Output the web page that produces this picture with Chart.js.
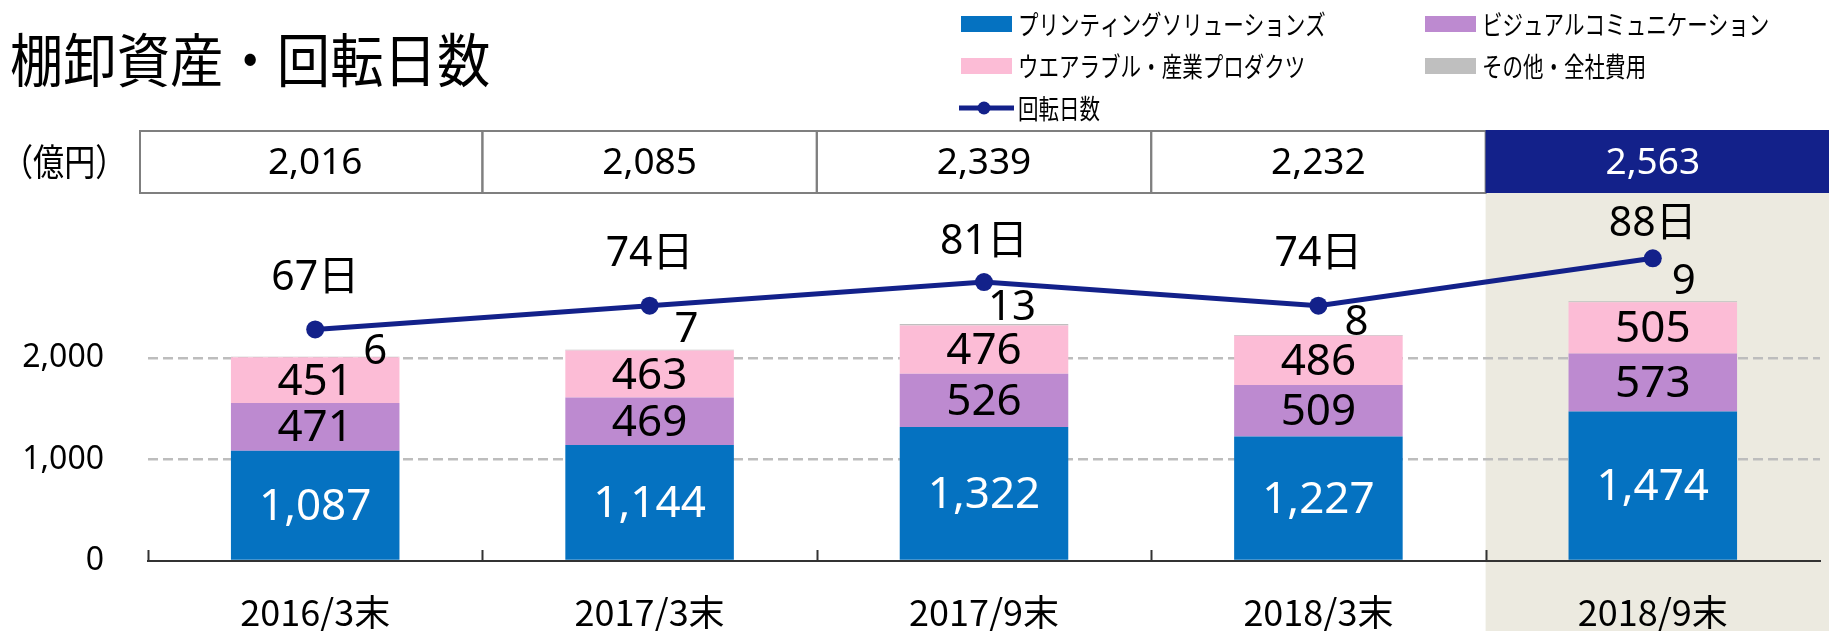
<!DOCTYPE html>
<html>
<head>
<meta charset="utf-8">
<script src="https://cdn.jsdelivr.net/npm/chart.js@4"></script>
<style>
  body { margin: 0; background: #fff; }
  #wrap { width: 1829px; height: 631px; }
</style>
</head>
<body>
<div id="wrap"><canvas id="myChart" width="1829" height="631"></canvas></div>
<script>
// values
const categories = ['2016/3末', '2017/3末', '2017/9末', '2018/3末', '2018/9末'];
const printing = [1087, 1144, 1322, 1227, 1474];
const visual = [471, 469, 526, 509, 573];
const wearable = [451, 463, 476, 486, 505];
const other = [6, 7, 13, 8, 9];
const totals = [2016, 2085, 2339, 2232, 2563];
const turnoverDays = [67, 74, 81, 74, 88];
const yTicks = [0, 1000, 2000];
const seriesNames = ['プリンティングソリューションズ', 'ビジュアルコミュニケーション',
    'ウエアラブル・産業プロダクツ', 'その他・全社費用', '回転日数'];

const colors = ['#0572c1', '#bd8ad0', '#fcbcd6', '#bfbfbf'];
const navy = '#13218a';
const NUM = '"Noto Sans", "Noto Sans CJK JP", sans-serif';
const JP = '"Noto Sans CJK JP", "Noto Sans", sans-serif';

// label nudges for the small "その他" numbers and the day labels
const otherDx = [60, 37, 28, 38, 31];
const otherDy = [-5, -20, -16, -12, -19];
const dayDy = [-51, -51, -40, -51, -34];

function fmt(v) { return v.toLocaleString('en-US'); }

function boundary(x, i) {
    // left edge of category i
    const w = (x.right - x.left) / categories.length;
    return x.getPixelForValue(i) - w / 2;
}

// left aligned text squeezed horizontally (the slide font is a narrow one)
function narrowText(ctx, text, x, y, sx) {
    ctx.save();
    ctx.translate(x, y);
    ctx.scale(sx, 1);
    ctx.textAlign = 'left';
    ctx.fillText(text, 0, 0);
    ctx.restore();
}

const bgPlugin = {
    id: 'bg',
    beforeDraw(chart) {
        const ctx = chart.ctx, x = chart.scales.x;
        ctx.save();
        ctx.fillStyle = '#eceae0';
        const l = boundary(x, 4);
        ctx.fillRect(l, chart.chartArea.top, chart.width - l, chart.height - chart.chartArea.top);
        ctx.restore();
    }
};

const labelPlugin = {
    id: 'labels',
    afterDatasetsDraw(chart) {
        const ctx = chart.ctx;
        ctx.save();
        ctx.textAlign = 'center';
        ctx.textBaseline = 'middle';
        // segment values
        for (let d = 0; d < 3; d++) {
            const meta = chart.getDatasetMeta(d);
            meta.data.forEach((bar, i) => {
                ctx.font = '44px ' + NUM;
                ctx.fillStyle = d === 0 ? '#fff' : '#000';
                ctx.fillText(fmt(chart.data.datasets[d].data[i]), bar.x, (bar.y + bar.base) / 2 + 2);
            });
        }
        // other
        const om = chart.getDatasetMeta(3);
        om.data.forEach((bar, i) => {
            ctx.font = '42px ' + NUM;
            ctx.fillStyle = '#000';
            ctx.fillText(fmt(other[i]), bar.x + otherDx[i], bar.y + otherDy[i]);
        });
        // days
        const lm = chart.getDatasetMeta(4);
        lm.data.forEach((pt, i) => {
            ctx.font = '41px ' + NUM;
            ctx.fillStyle = '#000';
            ctx.fillText(turnoverDays[i] + '日', pt.x, pt.y + dayDy[i]);
        });
        // small ticks at category edges
        const x = chart.scales.x, b = chart.chartArea.bottom;
        ctx.strokeStyle = '#333';
        ctx.lineWidth = 2;
        for (let i = 0; i < categories.length; i++) {
            const px = Math.round(boundary(x, i)) + 0.5;
            ctx.beginPath();
            ctx.moveTo(px, b - 11);
            ctx.lineTo(px, b);
            ctx.stroke();
        }
        ctx.restore();
    },
    afterDraw(chart) {
        const ctx = chart.ctx, x = chart.scales.x;
        ctx.save();
        // title
        ctx.fillStyle = '#000';
        ctx.textBaseline = 'middle';
        ctx.font = '58px ' + JP;
        narrowText(ctx, '棚卸資産・回転日数', 10, 60, 0.92);
        // unit
        ctx.font = '37px ' + JP;
        narrowText(ctx, '（億円）', 2, 162, 0.84);
        // totals row
        const top = 131, bot = 193;
        for (let i = 0; i < categories.length; i++) {
            const l = i === 0 ? 140 : boundary(x, i);
            const r = i === categories.length - 1 ? chart.width : boundary(x, i + 1);
            if (i === categories.length - 1) {
                ctx.fillStyle = navy;
                ctx.fillRect(l, top - 1, r - l, bot - top + 1);
            } else {
                ctx.strokeStyle = '#7f7f7f';
                ctx.lineWidth = 2;
                ctx.strokeRect(l, top, r - l, bot - top);
            }
            ctx.fillStyle = i === categories.length - 1 ? '#fff' : '#000';
            ctx.textAlign = 'center';
            ctx.font = '37px ' + NUM;
            ctx.fillText(fmt(totals[i]), x.getPixelForValue(i), 163);
        }
        // legend
        ctx.font = '27px ' + JP;
        const items = [
            [961, 24, 0], [1425, 24, 1], [961, 66, 2], [1425, 66, 3]
        ];
        items.forEach(([lx, ly, k]) => {
            ctx.fillStyle = colors[k];
            ctx.fillRect(lx, ly - 8, 51, 16);
            ctx.fillStyle = '#000';
            narrowText(ctx, seriesNames[k], lx + 57, ly + 1, 0.76);
        });
        ctx.strokeStyle = navy;
        ctx.lineWidth = 5;
        ctx.beginPath();
        ctx.moveTo(959, 108);
        ctx.lineTo(1014, 108);
        ctx.stroke();
        ctx.fillStyle = navy;
        ctx.beginPath();
        ctx.arc(984, 108, 6.5, 0, Math.PI * 2);
        ctx.fill();
        ctx.fillStyle = '#000';
        narrowText(ctx, seriesNames[4], 1018, 109, 0.76);
        ctx.restore();
    }
};

const ctx = document.getElementById('myChart').getContext('2d');
const barSet = (data, k) => ({
    type: 'bar',
    label: seriesNames[k],
    data: data,
    backgroundColor: colors[k],
    borderWidth: 0,
    barPercentage: 1,
    categoryPercentage: 0.504,
    yAxisID: 'y',
    order: 1
});

const myChart = new Chart(ctx, {
    type: 'bar',
    data: {
        labels: categories,
        datasets: [
            barSet(printing, 0),
            barSet(visual, 1),
            barSet(wearable, 2),
            barSet(other, 3),
            {
                type: 'line',
                label: seriesNames[4],
                data: turnoverDays,
                borderColor: navy,
                backgroundColor: navy,
                borderWidth: 5,
                pointRadius: 9,
                pointBorderWidth: 0,
                pointBackgroundColor: navy,
                fill: false,
                tension: 0,
                yAxisID: 'y1',
                order: 0
            }
        ]
    },
    options: {
        responsive: false,
        devicePixelRatio: 1,
        animation: false,
        layout: { padding: { top: 193, right: 0, left: 0, bottom: 0 } },
        plugins: {
            legend: { display: false },
            tooltip: { enabled: false },
            title: { display: false }
        },
        scales: {
            x: {
                stacked: true,
                grid: { display: false, drawTicks: false },
                border: { display: true, color: '#333', width: 2 },
                ticks: {
                    color: '#000',
                    font: { size: 36, family: JP },
                    padding: 30
                },
                afterFit: (s) => { s.height = 70; }
            },
            y: {
                stacked: true,
                min: 0,
                max: 3630,
                border: { display: false, dash: [10, 5] },
                grid: {
                    drawTicks: false,
                    lineWidth: 2.5,
                    color: (c) => (c.tick && c.tick.value > 0) ? '#bdbdbd' : 'rgba(0,0,0,0)'
                },
                ticks: {
                    padding: 44,
                    color: '#000',
                    font: { size: 32, family: NUM },
                    callback: (v) => fmt(v)
                },
                afterBuildTicks: (s) => { s.ticks = yTicks.map(v => ({ value: v })); },
                afterFit: (s) => { s.width = 148; }
            },
            y1: {
                display: false,
                min: -1.4,
                max: 107.3
            }
        }
    },
    plugins: [bgPlugin, labelPlugin]
});
</script>
</body>
</html>
